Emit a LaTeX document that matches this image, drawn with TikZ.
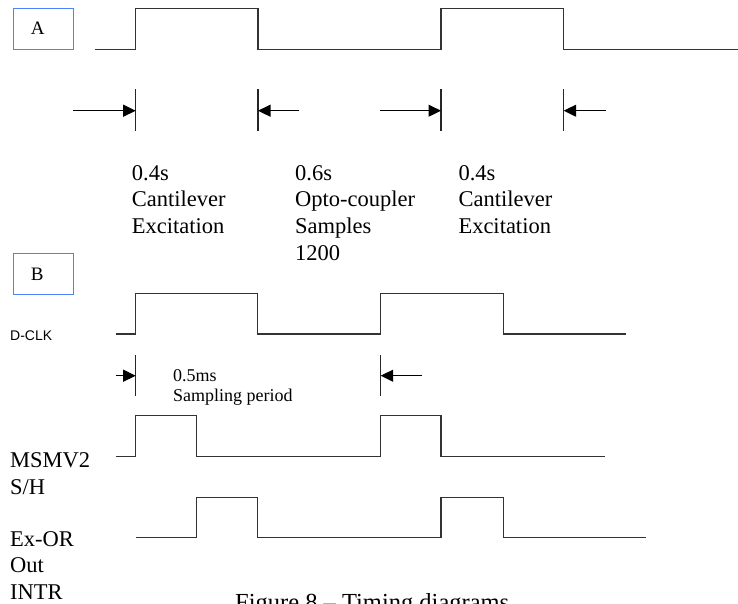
\documentclass[tikz,border=0pt]{standalone}
\usepackage{fontspec}
\setmainfont{Liberation Serif}
\newfontfamily\clkfont{Liberation Sans}
\usetikzlibrary{arrows.meta}
\definecolor{tagblue}{RGB}{80,130,255}

\begin{document}
\begin{tikzpicture}[x=1pt,y=-1pt,
  sig/.style={line width=1.3pt, color=black!80},
  tick/.style={line width=1.1pt, color=black!85},
  arr/.style={line width=1.1pt, -{Triangle[length=12.5pt,width=12pt]}},
  tagbox/.style={draw=tagblue, line width=1pt, minimum width=60.7pt, minimum height=41pt, inner sep=0pt},
  tagtxt/.style={anchor=base west, inner sep=0pt, font=\fontsize{19}{19}\selectfont},
  lbl/.style={anchor=base west, inner sep=0pt, align=left, font=\fontsize{22.5}{26.7}\selectfont},
  small/.style={anchor=base west, inner sep=0pt, align=left, font=\fontsize{18}{20.5}\selectfont}]
\useasboundingbox (0,0) rectangle (738,603);

% part A: excitation / sampling cycle (text nodes sit on their last baseline)
\node[tagbox] (boxA) at (43.6,28.8) {};
\node[tagtxt] (tagA) at (30.7,34.3) {A};
\draw[sig] (95,49.3) -| (135.7,8.3) -| (258,49.3) -| (441,8.3) -| (563.7,49.3) -- (738,49.3);

\foreach \x/\n in {135.7/a1, 258/a2, 441/a3, 563.7/a4}{
	\draw[tick] (\x,89.3)--(\x,130.7);
	\coordinate (\n) at (\x,110.7);
}
\coordinate (sa1) at (73.3,110.7);
\coordinate (sa2) at (299.3,110.7);
\coordinate (sa3) at (380,110.7);
\coordinate (sa4) at (605.7,110.7);
\draw[arr] (sa1)--(a1);
\draw[arr] (sa2)--(a2);
\draw[arr] (sa3)--(a3);
\draw[arr] (sa4)--(a4);

\node[lbl] (exc1) at (131.7,233.4) {0.4s\\Cantilever\\Excitation};
\node[lbl] (opto) at (295,260.1) {0.6s\\Opto-coupler\\Samples\\1200};
\node[lbl] (exc2) at (458.3,233.4) {0.4s\\Cantilever\\Excitation};

% part B: clock and control lines
\node[tagbox] (boxB) at (43.6,273.5) {};
\node[tagtxt] (tagB) at (30.7,280) {B};

\node[anchor=base west, inner sep=0pt, font=\clkfont\fontsize{14}{14}\selectfont] (dclk) at (10,340) {D-CLK};
\draw[sig] (115.7,334) -| (135.7,293.7) -| (257.7,334) -| (380.7,293.7) -| (503.3,334) -- (626,334);

\foreach \x/\n in {135.7/b1, 380.7/b2}{
	\draw[tick] (\x,355)--(\x,396);
	\coordinate (\n) at (\x,375.7);
}
\coordinate (sb1) at (115.7,375.7);
\coordinate (sb2) at (421.7,375.7);
\draw[arr] (sb1)--(b1);
\draw[arr] (sb2)--(b2);
\node[small] (period) at (173,401.5) {0.5ms\\Sampling period};

\node[lbl] (msmv) at (10,494) {MSMV2\\S/H};
\draw[sig] (115.7,456.7) -| (135.7,415.7) -| (196.7,456.7) -| (380.7,415.7) -| (441,456.7) -- (605,456.7);

\node[lbl] (exor) at (10,599.5) {Ex-OR\\Out\\INTR};
\draw[sig] (135.7,537.3) -| (196.7,497.3) -| (257.7,537.3) -| (441,497.3) -| (503.3,537.3) -- (646,537.3);

\node[anchor=base west, inner sep=0pt, font=\fontsize{24.5}{24.5}\selectfont] (caption) at (235,610) {Figure 8 -- Timing diagrams};

\end{tikzpicture}
\end{document}
